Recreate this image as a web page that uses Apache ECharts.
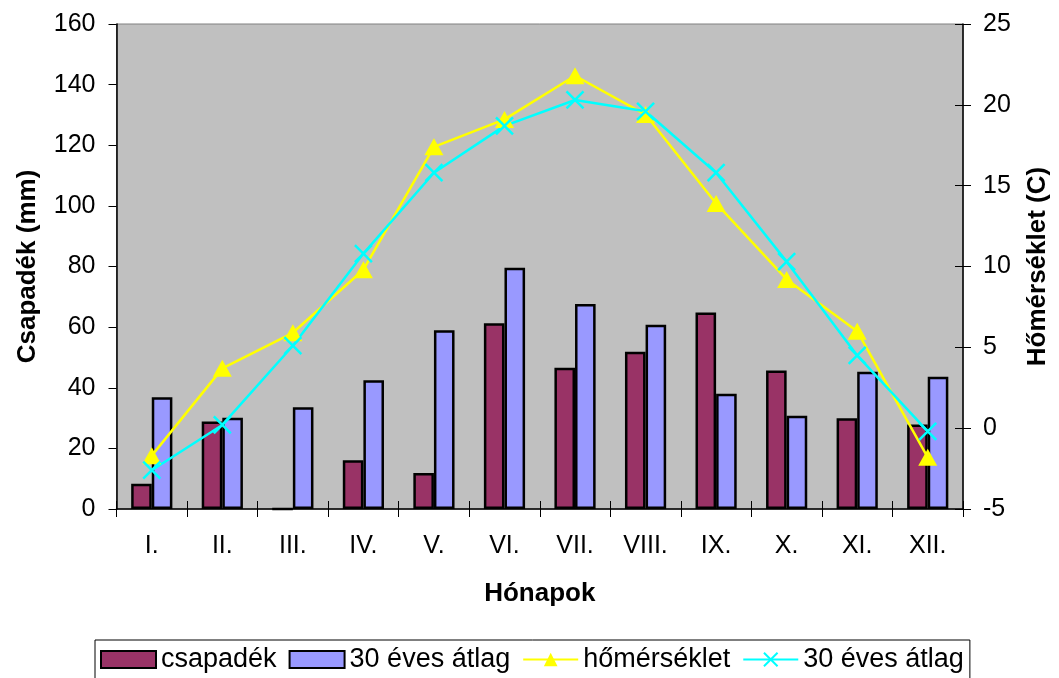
<!DOCTYPE html>
<html>
<head>
<meta charset="utf-8">
<script src="https://cdn.jsdelivr.net/npm/echarts@6/dist/echarts.min.js"></script>
<style>
html,body{margin:0;padding:0;background:#fff;}
#chart{width:1059px;height:678px;}
</style>
</head>
<body>
<div id="chart"></div>
<script>
const categories = ['I.','II.','III.','IV.','V.','VI.','VII.','VIII.','IX.','X.','XI.','XII.'];
const csapadek = [8.3, 28.9, 0, 16.1, 11.9, 61.3, 46.6, 51.9, 64.8, 45.7, 29.9, 27.9];
const csapadekAtlag = [36.9, 30.1, 33.6, 42.5, 59.0, 79.6, 67.6, 60.8, 38.0, 30.8, 45.3, 43.6];
const homerseklet = [-1.7, 3.7, 5.9, 9.8, 17.4, 19.1, 21.8, 19.4, 13.9, 9.2, 6.0, -1.8];
const homersekletAtlag = [-2.6, 0.2, 5.1, 10.8, 15.8, 18.7, 20.3, 19.6, 15.8, 10.3, 4.5, -0.2];
const leftTicks = {min: 0, max: 160, interval: 20};
const rightTicks = {min: -5, max: 25, interval: 5};
const seriesKeys = ['csap', 'csapAtl', 'hom', 'homAtl'];
const seriesLabels = ['csapadék', '30 éves átlag', 'hőmérséklet', '30 éves átlag'];

const FONT = 'Liberation Sans, Arial, sans-serif';
const chart = echarts.init(document.getElementById('chart'), null, {renderer: 'canvas'});
const crossPath = 'path://M0,0L10,10M10,0L0,10';

const option = {
  backgroundColor: '#ffffff',
  animation: false,
  textStyle: {fontFamily: FONT, color: '#000'},
  grid: {
    left: 116.5, right: 92.5, top: 24, bottom: 169,
    show: true, backgroundColor: '#C0C0C0', borderColor: '#808080', borderWidth: 1
  },
  legend: {
    left: 95, top: 640,
    width: 950,
    padding: [6, 6, 6, 5],
    borderColor: '#000', borderWidth: 1,
    itemWidth: 55, itemHeight: 17, itemGap: 12,
    data: [
      {name: seriesKeys[0], icon: 'rect'},
      {name: seriesKeys[1], icon: 'rect'},
      {name: seriesKeys[2]},
      {name: seriesKeys[3]}
    ],
    formatter: n => seriesLabels[seriesKeys.indexOf(n)],
    textStyle: {fontFamily: FONT, fontSize: 27, color: '#000'}
  },
  xAxis: [{
    type: 'category', data: categories, position: 'bottom',
    name: 'Hónapok', nameLocation: 'middle', nameGap: 72,
    nameTextStyle: {fontFamily: FONT, fontSize: 26, fontWeight: 'bold', color: '#000'},
    axisLine: {show: true, onZero: false, lineStyle: {color: '#000', width: 1.5}},
    axisTick: {show: true, length: 8, lineStyle: {color: '#000', width: 1}},
    axisLabel: {fontFamily: FONT, fontSize: 25, color: '#000', margin: 25},
    splitLine: {show: false}
  }, {
    type: 'category', data: categories, position: 'bottom',
    axisLine: {show: false, onZero: false},
    axisTick: {show: true, inside: true, length: 8, lineStyle: {color: '#000', width: 1}},
    axisLabel: {show: false},
    splitLine: {show: false}
  }],
  yAxis: [{
    type: 'value', position: 'left',
    min: leftTicks.min, max: leftTicks.max, interval: leftTicks.interval,
    name: 'Csapadék (mm)', nameLocation: 'middle', nameGap: 76, nameRotate: 90,
    nameTextStyle: {fontFamily: FONT, fontSize: 26, fontWeight: 'bold', color: '#000'},
    axisLine: {show: true, lineStyle: {color: '#000', width: 1.5}},
    axisTick: {show: true, length: 8, lineStyle: {color: '#000', width: 1}},
    axisLabel: {fontFamily: FONT, fontSize: 25, color: '#000', margin: 21},
    splitLine: {show: false}
  }, {
    type: 'value', position: 'right',
    min: rightTicks.min, max: rightTicks.max, interval: rightTicks.interval,
    name: 'Hőmérséklet (C)', nameLocation: 'middle', nameGap: 62, nameRotate: 90,
    nameTextStyle: {fontFamily: FONT, fontSize: 26, fontWeight: 'bold', color: '#000'},
    axisLine: {show: true, lineStyle: {color: '#000', width: 1.5}},
    axisTick: {show: true, length: 8, lineStyle: {color: '#000', width: 1}},
    axisLabel: {fontFamily: FONT, fontSize: 25, color: '#000', margin: 20},
    splitLine: {show: false}
  }, {
    type: 'value', position: 'right',
    min: rightTicks.min, max: rightTicks.max, interval: rightTicks.interval,
    axisLine: {show: false},
    axisTick: {show: true, inside: true, length: 8, lineStyle: {color: '#000', width: 1}},
    axisLabel: {show: false},
    splitLine: {show: false}
  }],
  series: [{
    name: 'csap', type: 'bar', xAxisIndex: 0, yAxisIndex: 0,
    data: csapadek, barWidth: '29.2%', barGap: '0%',
    itemStyle: {color: '#993366', borderColor: '#000', borderWidth: 2.5}
  }, {
    name: 'csapAtl', type: 'bar', xAxisIndex: 0, yAxisIndex: 0,
    data: csapadekAtlag, barWidth: '29.2%', barGap: '0%',
    itemStyle: {color: '#9999FF', borderColor: '#000', borderWidth: 2.5}
  }, {
    name: 'hom', type: 'line', xAxisIndex: 0, yAxisIndex: 1,
    data: homerseklet, symbol: 'triangle', symbolSize: [19, 17],
    lineStyle: {color: '#FFFF00', width: 2.5},
    itemStyle: {color: '#FFFF00', borderColor: '#FFFF00', borderWidth: 0}
  }, {
    name: 'homAtl', type: 'line', xAxisIndex: 0, yAxisIndex: 1,
    data: homersekletAtlag, symbol: crossPath, symbolSize: 17,
    lineStyle: {color: '#00FFFF', width: 2.5},
    itemStyle: {color: 'none', borderColor: '#00FFFF', borderWidth: 2.5}
  }]
};
chart.setOption(option);
</script>
</body>
</html>
